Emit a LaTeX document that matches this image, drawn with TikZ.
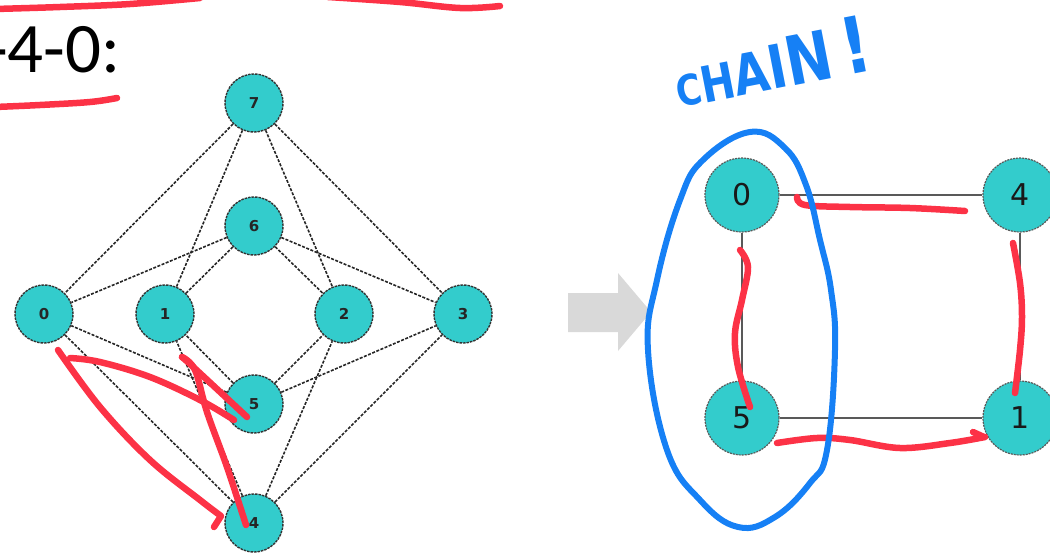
\documentclass[tikz,border=0pt]{standalone}
\usepackage{fontspec}
\setmainfont{Carlito}
\newfontfamily\lblfont{DejaVu Sans}
\usetikzlibrary{backgrounds}
\definecolor{nodecyan}{RGB}{51,204,204}
\definecolor{inkred}{RGB}{252,50,70}
\definecolor{inkblue}{RGB}{22,128,245}
\definecolor{arrowgray}{RGB}{217,217,217}
\begin{document}
\begin{tikzpicture}[x=1pt,y=-1pt,
  lnode/.style={circle, fill=nodecyan, draw=black!80, dash pattern=on 2.5pt off 1pt, line width=1.4pt,
    minimum size=58pt, inner sep=0pt, text=black!85, font=\lblfont\bfseries\fontsize{15}{15}\selectfont},
  rnode/.style={circle, fill=nodecyan, draw=black!65, dash pattern=on 2pt off 1pt, line width=1.2pt,
    minimum size=74pt, inner sep=0pt, text=black!90, font=\lblfont\fontsize{30}{30}\selectfont},
  ledge/.style={draw=black!85, line width=1.6pt, dash pattern=on 3pt off 1.5pt},
  redge/.style={draw=black!65, line width=2pt},
  redink/.style={draw=inkred, line width=6.5pt, line cap=round, line join=round},
  blueink/.style={draw=inkblue, line width=6pt, line cap=round, line join=round}]
\useasboundingbox (0,0) rectangle (1050,555);
\clip (0,0) rectangle (1050,555);

% title fragment
\node[anchor=base west, inner sep=0pt, font=\fontsize{71}{71}\selectfont] (title) at (-14,72) {-4-0:};

% left graph
\node[lnode] (L7) at (254,103) {7};
\node[lnode] (L6) at (254,226) {6};
\node[lnode] (L0) at (44,314) {0};
\node[lnode] (L1) at (165,314) {1};
\node[lnode] (L2) at (344,314) {2};
\node[lnode] (L3) at (463,314) {3};
\node[lnode] (L5) at (254,404) {5};
\node[lnode] (L4) at (254,523) {4};
\begin{scope}[on background layer]
  \foreach \a in {L7,L6,L5,L4}{
    \foreach \b in {L0,L1,L2,L3}{
      \draw[ledge] (\a) -- (\b);
    }
  }
\end{scope}

% right graph
\node[rnode] (R0) at (742,195) {0};
\node[rnode] (R4) at (1020,195) {4};
\node[rnode] (R5) at (742,418) {5};
\node[rnode] (R1) at (1020,418) {1};
\begin{scope}[on background layer]
  \draw[redge] (R0) -- (R4);
  \draw[redge] (R0) -- (R5);
  \draw[redge] (R5) -- (R1);
  \draw[redge] (R4) -- (R1);
\end{scope}

% gray block arrow
\fill[arrowgray] (568,293) -- (618,293) -- (618,273) -- (651,312) -- (618,351) -- (618,332) -- (568,332) -- cycle;

% red ink strokes
\draw[redink] plot[smooth, tension=0.6] coordinates {(-5,9) (60,7) (130,4) (200,-2)};
\draw[redink] plot[smooth, tension=0.6] coordinates {(328,-3) (400,2) (460,8) (500,6)};
\draw[redink] plot[smooth, tension=0.6] coordinates {(-5,107) (40,105) (90,102) (117,98)};
\draw[redink] plot[smooth, tension=0.6] coordinates {(58,350) (100,407) (150,460) (200,500) (221,516)} -- (214,527);
\draw[redink] plot[smooth, tension=0.6] coordinates {(70,358) (100,362) (150,377) (200,400) (234,420)};
\draw[redink] plot[smooth, tension=0.6] coordinates {(247,417) (218,390) (190,364) (182,357)};
\draw[redink] plot[smooth, tension=0.6] coordinates {(182,357) (195,370) (207,412) (227,467) (246,525)};
\draw[redink] plot[smooth, tension=0.6] coordinates {(797,197) (805,205) (850,207) (910,208) (965,211)};
\draw[redink] plot[smooth, tension=0.6] coordinates {(740,250) (748,267) (742,300) (735,333) (738,367) (750,407)};
\draw[redink] plot[smooth, tension=0.6] coordinates {(1013,243) (1020,283) (1022,317) (1020,350) (1015,393)};
\draw[redink] plot[smooth, tension=0.6] coordinates {(777,443) (817,438) (850,440) (900,448) (950,443) (985,437)};
\draw[redink] (973,432) -- (984,437);

% blue loop
\draw[blueink] plot[smooth cycle, tension=0.7] coordinates {(750,132) (785,148) (806,185) (820,240) (831,290) (835,350) (827,450) (810,483) (775,517) (738,527) (700,500) (667,450) (648,350) (657,280) (680,200) (703,160)};

% CHAIN!
\node[anchor=base west, inner sep=0pt, rotate=11, text=inkblue, font=\lblfont\bfseries] (chain) at (679,108)
  {\scalebox{0.82}[1]{{\fontsize{42}{42}\selectfont C}{\fontsize{50}{50}\selectfont H}{\fontsize{56}{56}\selectfont A}{\fontsize{60}{60}\selectfont I}{\fontsize{68}{68}\selectfont N}{\fontsize{78}{78}\selectfont\,!}}};
\end{tikzpicture}
\end{document}
